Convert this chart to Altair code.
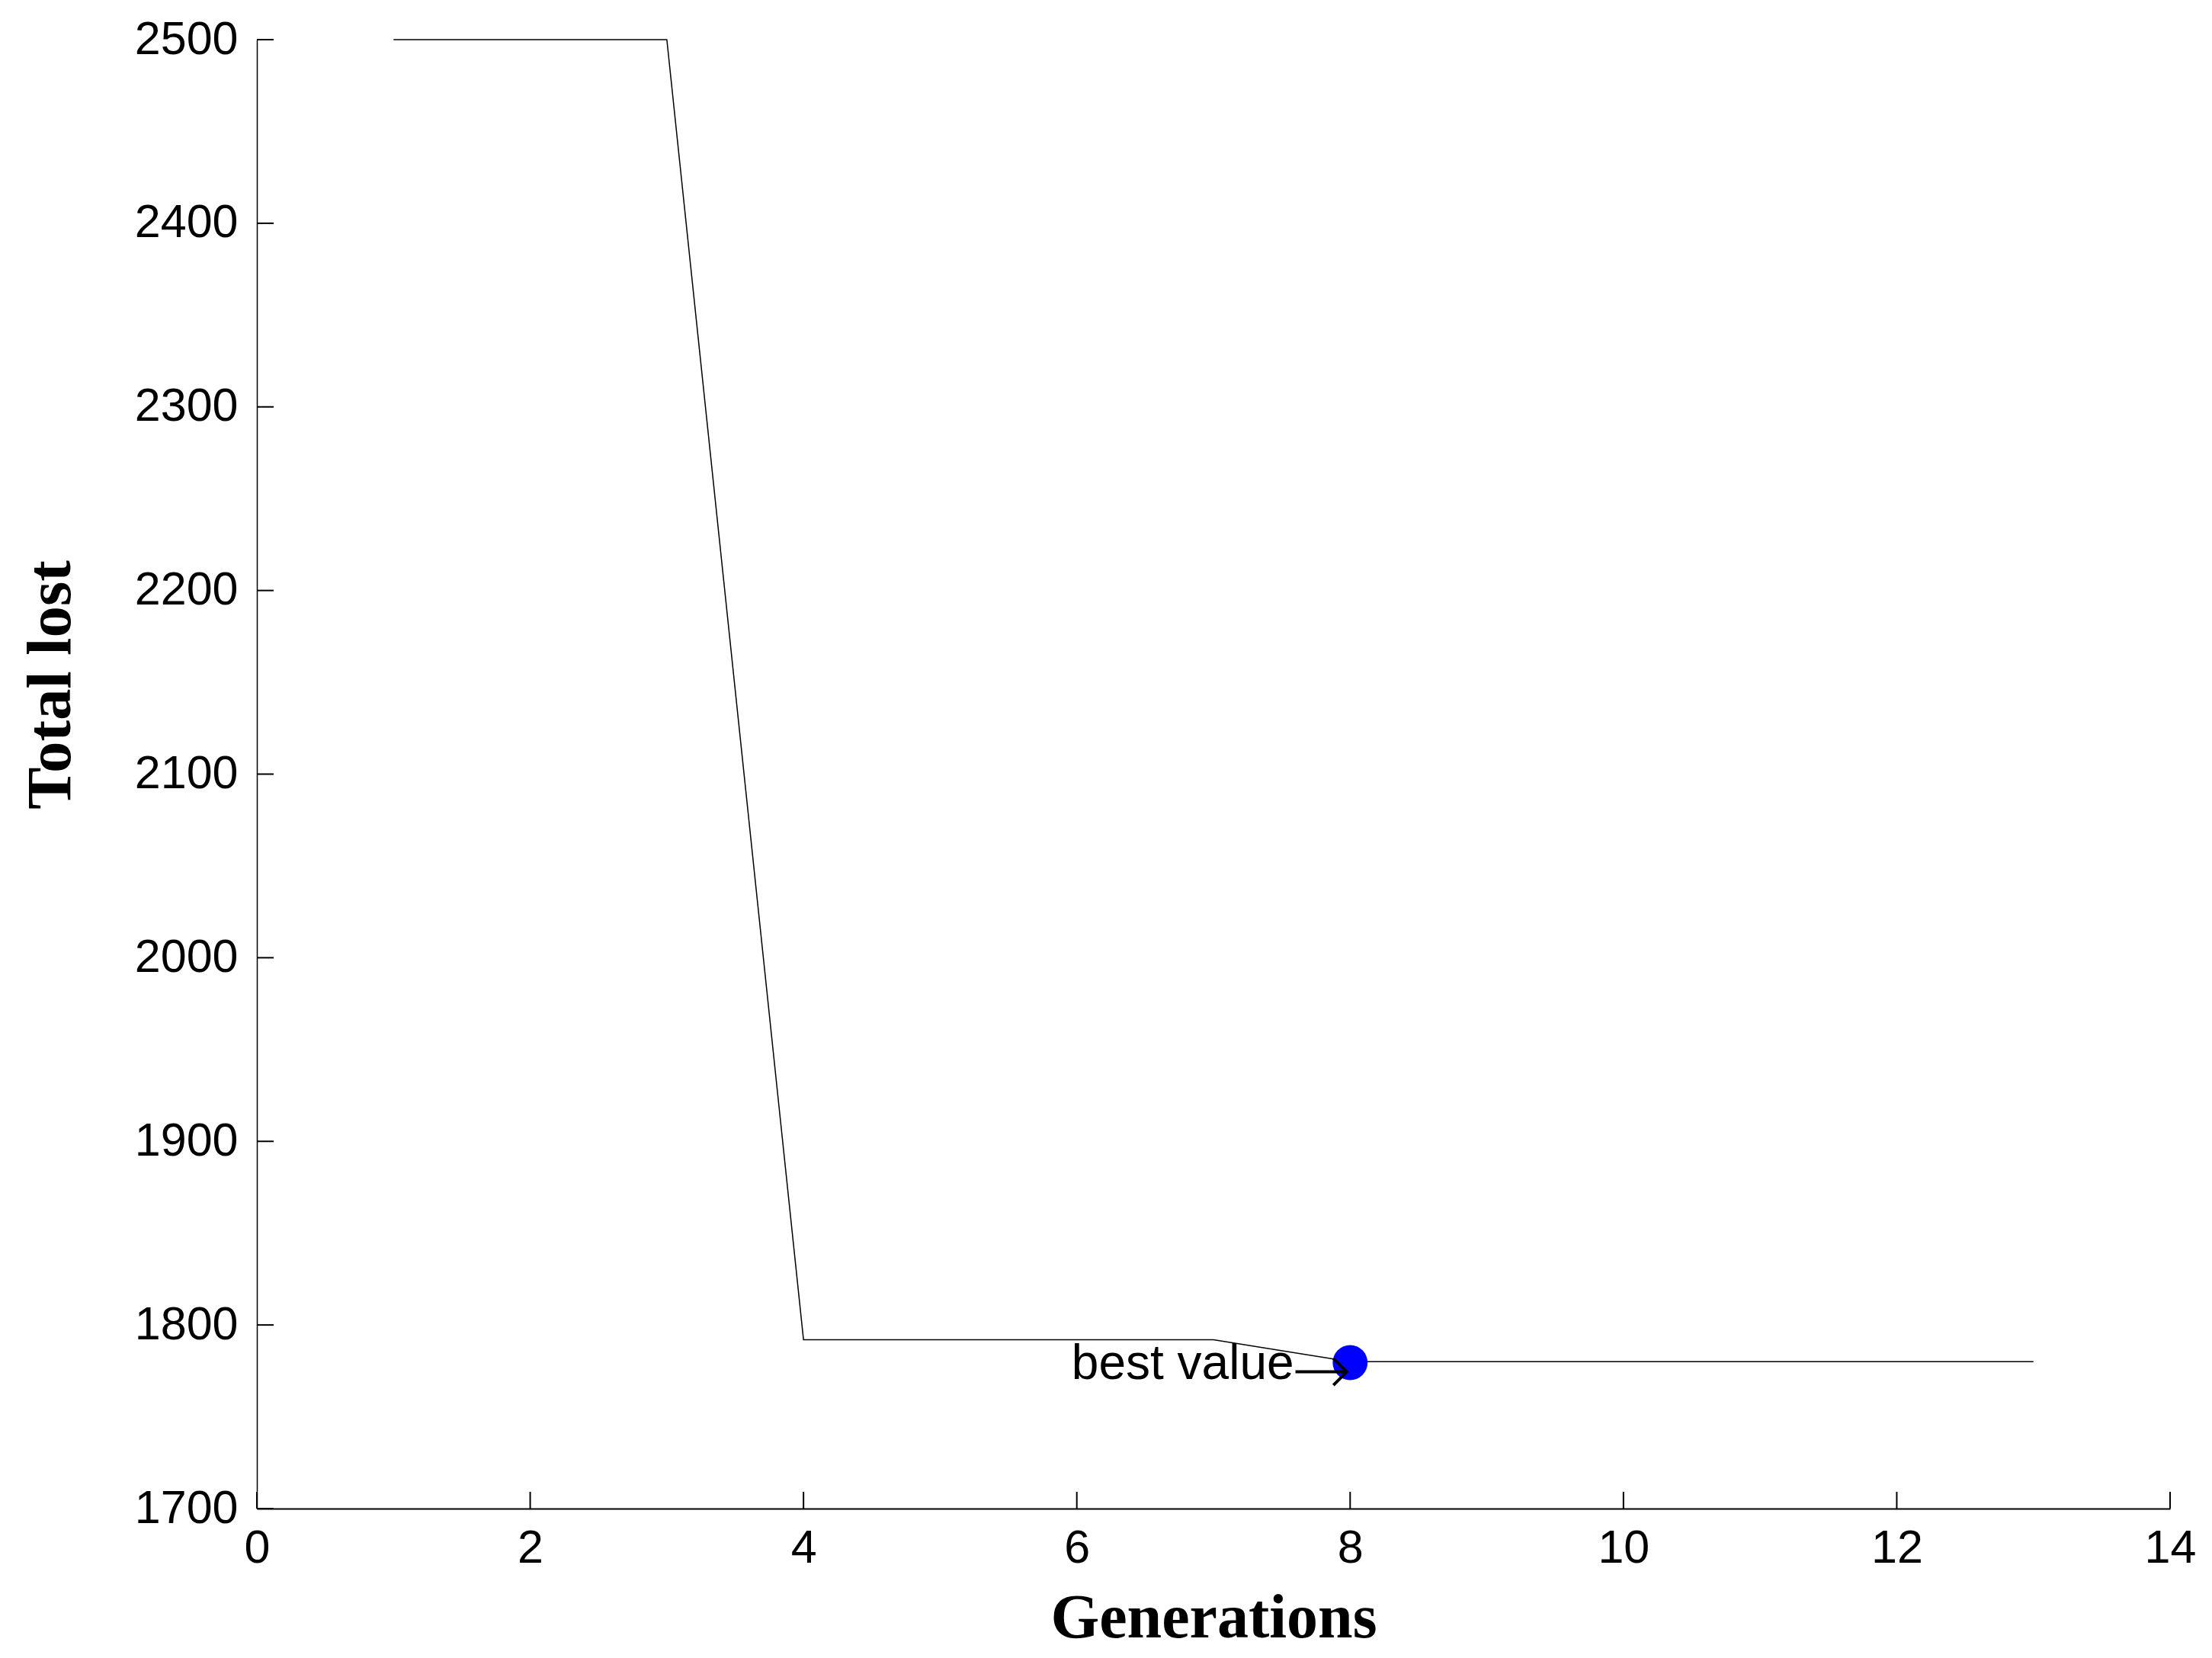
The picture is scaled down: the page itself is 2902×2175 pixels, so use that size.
import altair as alt
import pandas as pd

# data
generations = [1, 2, 3, 4, 5, 6, 7, 8, 9, 10, 11, 12, 13]
total_lost = [2500, 2500, 2500, 1792, 1792, 1792, 1792, 1780, 1780, 1780, 1780, 1780, 1780]
best_gen = [8]
best_val = [1779.5]
x_ticks = [0, 2, 4, 6, 8, 10, 12, 14]
y_ticks = [1700, 1800, 1900, 2000, 2100, 2200, 2300, 2400, 2500]
ann_text = ["best value"]
ann_x_start = [7.60]
ann_x_end = [7.975]
ann_y_arrow = [1774.5]
ann_y_text = [1770.5]

W, H = 2510, 1927
TICK = 22

line_df = pd.DataFrame({"g": generations, "v": total_lost})
best_df = pd.DataFrame({"g": best_gen, "v": best_val})
xt_df = pd.DataFrame({"t": x_ticks})
yt_df = pd.DataFrame({"t": y_ticks})
ann_df = pd.DataFrame({"label": ann_text, "x0": ann_x_start, "x1": ann_x_end,
                       "ya": ann_y_arrow, "yt": ann_y_text})

xscale = alt.Scale(domain=[0, 14], nice=False, zero=False)
yscale = alt.Scale(domain=[1700, 2500], nice=False, zero=False)

xaxis = alt.Axis(values=x_ticks, ticks=False, grid=False, format="d",
                 labelFont="Liberation Sans", labelFontSize=61, labelColor="black",
                 labelPadding=22, domainColor="black", domainWidth=2,
                 title="Generations", titleFont="Liberation Serif", titleFontSize=82,
                 titleFontWeight="bold", titleColor="black", titleBaseline="alphabetic",
                 titleY=168, titleX=W / 2, titleAlign="center", labelFlush=False)
yaxis = alt.Axis(values=y_ticks, ticks=False, grid=False, format="d",
                 labelFont="Liberation Sans", labelFontSize=61, labelColor="black",
                 labelPadding=25, domainColor="black", domainWidth=1.5,
                 title="Total lost", titleFont="Liberation Serif", titleFontSize=83,
                 titleFontWeight="bold", titleColor="black", titleAngle=270,
                 titleBaseline="alphabetic", titleAlign="center", titleX=-246, titleY=846,
                 labelFlush=False)

line = alt.Chart(line_df).mark_line(color="black", strokeWidth=1.5).encode(
    x=alt.X("g:Q", scale=xscale, axis=xaxis),
    y=alt.Y("v:Q", scale=yscale, axis=yaxis),
)

xt = alt.Chart(xt_df).mark_rule(color="black", strokeWidth=2).encode(
    x=alt.X("t:Q", scale=xscale), y=alt.value(H), y2=alt.value(H - TICK)
)
yt = alt.Chart(yt_df).mark_rule(color="black", strokeWidth=2).encode(
    y=alt.Y("t:Q", scale=yscale), x=alt.value(0), x2=alt.value(TICK)
)

dot = alt.Chart(best_df).mark_point(filled=True, color="#0000FF", opacity=1,
                                    size=2100, strokeWidth=0).encode(
    x=alt.X("g:Q", scale=xscale), y=alt.Y("v:Q", scale=yscale)
)

shaft = alt.Chart(ann_df).mark_rule(color="black", strokeWidth=4).encode(
    x=alt.X("x0:Q", scale=xscale), x2="x1:Q", y=alt.Y("ya:Q", scale=yscale)
)
head = alt.Chart(ann_df).mark_point(
    shape="M-1,-1L0,0L-1,1", filled=False, color="black", strokeWidth=4,
    size=1225, opacity=1
).encode(x=alt.X("x1:Q", scale=xscale), y=alt.Y("ya:Q", scale=yscale))

label = alt.Chart(ann_df).mark_text(
    align="right", baseline="alphabetic", font="Liberation Sans", fontSize=64,
    color="black", dx=-2
).encode(x=alt.X("x0:Q", scale=xscale), y=alt.Y("yt:Q", scale=yscale), text="label:N")

chart = alt.layer(line, xt, yt, dot, shaft, head, label).properties(
    width=W, height=H,
    autosize=alt.AutoSizeParams(type="none"),
    padding={"left": 329, "top": 44, "right": 40, "bottom": 188},
).configure(background="white").configure_view(stroke=None, strokeWidth=0)

chart.save("out.html", embed_options={"renderer": "svg", "actions": False})
